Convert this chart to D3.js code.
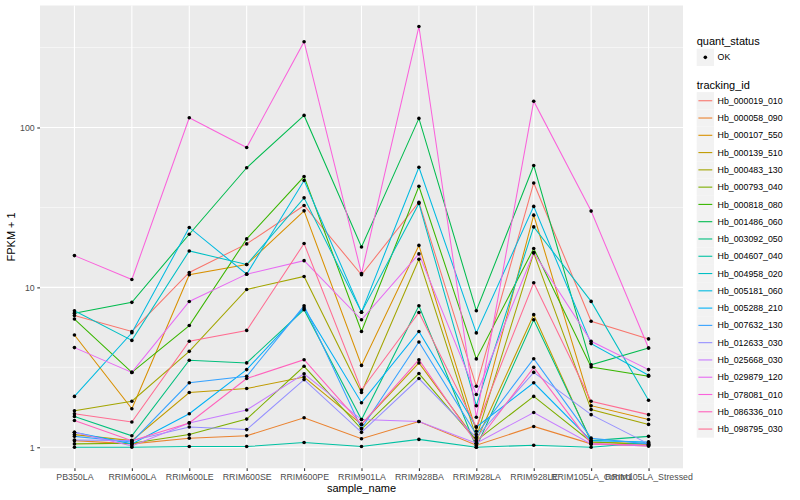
<!DOCTYPE html>
<html>
<head>
<meta charset="utf-8">
<script src="https://cdn.jsdelivr.net/npm/d3@7"></script>
<style>
  body { margin: 0; background: #fff; }
  text { font-family: "Liberation Sans", Arial, Helvetica, sans-serif; }
</style>
</head>
<body>
<svg id="chart" width="800" height="500"></svg>
<script>
var width = 800,
    height = 500;

// categories
var samples = ["PB350LA", "RRIM600LA", "RRIM600LE", "RRIM600SE", "RRIM600PE", "RRIM901LA",
  "RRIM928BA", "RRIM928LA", "RRIM928LE", "RRIM105LA_Control", "RRIM105LA_Stressed"];

var trackingIds = ["Hb_000019_010", "Hb_000058_090", "Hb_000107_550", "Hb_000139_510",
  "Hb_000483_130", "Hb_000793_040", "Hb_000818_080", "Hb_001486_060", "Hb_003092_050",
  "Hb_004607_040", "Hb_004958_020", "Hb_005181_060", "Hb_005288_210", "Hb_007632_130",
  "Hb_012633_030", "Hb_025668_030", "Hb_029879_120", "Hb_078081_010", "Hb_086336_010",
  "Hb_098795_030"];

var trackingColors = ["#F8766D", "#EA8331", "#D89000", "#C09B00", "#A3A500", "#7CAE00",
  "#39B600", "#00BB4E", "#00BF7D", "#00C1A3", "#00BFC4", "#00BAE0", "#00B0F6", "#35A2FF",
  "#9590FF", "#C77CFF", "#E76BF3", "#FA62DB", "#FF62BC", "#FF6C91"];

// FPKM + 1, one value per sample
var hb_000019_010 = [6.66, 5.3, 12.4, 18.7, 32.5, 12.0, 34.1, 2.41, 45, 6.14, 4.76];
var hb_000058_090 = [1.1, 1.05, 1.14, 1.18, 1.53, 1.13, 1.45, 1.03, 1.35, 1.05, 1.02];
var hb_000107_550 = [5.04, 1.74, 12.0, 13.9, 30.1, 3.25, 18.3, 1.26, 28.3, 1.82, 1.49];
var hb_000139_510 = [1.2, 1.1, 2.2, 2.33, 2.75, 1.39, 3.37, 1.1, 6.75, 1.08, 1.05];
var hb_000483_130 = [1.69, 1.94, 3.98, 9.7, 11.7, 2.2, 15.0, 1.15, 16.4, 1.72, 1.39];
var hb_000793_040 = [1.05, 1.06, 1.2, 1.5, 3.21, 1.3, 2.89, 1.1, 2.08, 1.08, 1.04];
var hb_000818_080 = [6.34, 2.94, 5.77, 20.1, 49.3, 5.3, 42.9, 3.57, 17.5, 3.18, 2.78];
var hb_001486_060 = [6.9, 8.06, 21.5, 56, 119, 17.9, 114, 7.14, 57.9, 3.28, 4.18];
var hb_003092_050 = [1.56, 1.18, 3.5, 3.37, 7.25, 1.49, 7.67, 1.0, 6.27, 1.1, 1.17];
var hb_004607_040 = [1.0, 1.0, 1.01, 1.01, 1.07, 1.01, 1.12, 1.0, 1.03, 1.0, 1.07];
var hb_004958_020 = [7.14, 4.66, 16.9, 13.9, 36.3, 7.0, 33.5, 1.82, 23.9, 8.17, 1.97];
var hb_005181_060 = [2.08, 5.2, 23.7, 12.1, 46.6, 7.0, 56.4, 5.19, 32.1, 4.45, 2.82];
var hb_005288_210 = [1.24, 1.05, 1.62, 3.06, 7.44, 1.9, 5.3, 1.34, 2.53, 1.1, 1.08];
var hb_007632_130 = [1.17, 1.08, 2.53, 2.78, 7.67, 1.31, 4.55, 1.2, 3.58, 1.14, 1.05];
var hb_012633_030 = [1.11, 1.1, 1.34, 1.29, 2.65, 1.24, 2.69, 1.15, 2.94, 1.6, 1.05];
var hb_025668_030 = [1.24, 1.02, 1.42, 1.71, 2.88, 1.49, 1.45, 1.06, 1.65, 1.05, 1.02];
var hb_029879_120 = [4.2, 2.94, 8.16, 12.1, 14.7, 6.27, 16.2, 2.14, 16.5, 4.6, 3.06];
var hb_078081_010 = [15.8, 11.2, 115, 75, 344, 12.2, 428, 1.54, 146, 30, 4.18];
var hb_086336_010 = [1.47, 1.1, 1.42, 2.69, 3.53, 1.39, 3.53, 1.06, 3.16, 1.05, 1.03];
var hb_098795_030 = [1.62, 1.44, 4.6, 5.38, 18.8, 2.28, 6.97, 1.34, 10.7, 1.94, 1.6];

var fpkmSeries = [hb_000019_010, hb_000058_090, hb_000107_550, hb_000139_510, hb_000483_130,
  hb_000793_040, hb_000818_080, hb_001486_060, hb_003092_050, hb_004607_040, hb_004958_020,
  hb_005181_060, hb_005288_210, hb_007632_130, hb_012633_030, hb_025668_030, hb_029879_120,
  hb_078081_010, hb_086336_010, hb_098795_030];

var yMajor = [1, 10, 100];
var yMinor = [Math.pow(10, 0.5), Math.pow(10, 1.5), Math.pow(10, 2.5)];

/**
 * Panel
 */
var panel = { left: 40, right: 683, top: 5.5, bottom: 468.3 };

var svg = d3.select('#chart');

var x = d3.scalePoint()
    .domain(samples)
    .range([panel.left, panel.right])
    .padding(0.6);

var allValues = d3.merge(fpkmSeries);
var lo = Math.log10(d3.min(allValues)),
    hi = Math.log10(d3.max(allValues)),
    pad = (hi - lo) * 0.05;

var y = d3.scaleLog()
    .domain([Math.pow(10, lo - pad), Math.pow(10, hi + pad)])
    .range([panel.bottom, panel.top]);

var color = d3.scaleOrdinal().domain(trackingIds).range(trackingColors);

svg.append('rect')
    .attr('x', panel.left).attr('y', panel.top)
    .attr('width', panel.right - panel.left)
    .attr('height', panel.bottom - panel.top)
    .attr('fill', '#EBEBEB');

// grid
svg.append('g').selectAll('line').data(yMinor).enter().append('line')
    .attr('x1', panel.left).attr('x2', panel.right)
    .attr('y1', function(d) { return y(d); }).attr('y2', function(d) { return y(d); })
    .attr('stroke', '#fff').attr('stroke-width', 0.55);

svg.append('g').selectAll('line').data(yMajor).enter().append('line')
    .attr('x1', panel.left).attr('x2', panel.right)
    .attr('y1', function(d) { return y(d); }).attr('y2', function(d) { return y(d); })
    .attr('stroke', '#fff').attr('stroke-width', 1.1);

svg.append('g').selectAll('line').data(samples).enter().append('line')
    .attr('x1', function(d) { return x(d); }).attr('x2', function(d) { return x(d); })
    .attr('y1', panel.top).attr('y2', panel.bottom)
    .attr('stroke', '#fff').attr('stroke-width', 1.1);

/**
 * Lines and points
 */
var line = d3.line()
    .x(function(d, i) { return x(samples[i]); })
    .y(function(d) { return y(d); });

svg.append('g').selectAll('path').data(fpkmSeries).enter().append('path')
    .attr('d', line)
    .attr('fill', 'none')
    .attr('stroke', function(d, i) { return color(trackingIds[i]); })
    .attr('stroke-width', 1.05);

var pts = svg.append('g');
fpkmSeries.forEach(function(s) {
    pts.selectAll(null).data(s).enter().append('circle')
        .attr('cx', function(d, i) { return x(samples[i]); })
        .attr('cy', function(d) { return y(d); })
        .attr('r', 1.8)
        .attr('fill', '#000');
});

/**
 * Axes
 */
var xAxis = svg.append('g')
    .attr('transform', 'translate(0,' + panel.bottom + ')')
    .call(d3.axisBottom(x).tickSize(2.75).tickPadding(2.5));

var yAxis = svg.append('g')
    .attr('transform', 'translate(' + panel.left + ',0)')
    .call(d3.axisLeft(y).tickValues(yMajor).tickFormat(d3.format('d')).tickSize(2.75).tickPadding(2.5));

[xAxis, yAxis].forEach(function(a) {
    a.select('.domain').remove();
    a.selectAll('.tick line').attr('stroke', '#333333').attr('stroke-width', 1.07);
    a.selectAll('.tick text').attr('fill', '#4D4D4D').style('font-size', '8.8px');
});

svg.append('text')
    .attr('x', (panel.left + panel.right) / 2).attr('y', 492)
    .attr('text-anchor', 'middle')
    .style('font-size', '11px')
    .text('sample_name');

svg.append('text')
    .attr('transform', 'translate(15,' + ((panel.top + panel.bottom) / 2) + ') rotate(-90)')
    .attr('text-anchor', 'middle')
    .style('font-size', '11px')
    .text('FPKM + 1');

/**
 * Legends
 */
var keyX = 696.7, keySize = 17.28;
var legend = svg.append('g');

legend.append('text').attr('x', keyX).attr('y', 44.5)
    .style('font-size', '11px').text('quant_status');
legend.append('rect').attr('x', keyX).attr('y', 48.7)
    .attr('width', keySize).attr('height', keySize).attr('fill', '#F2F2F2');
legend.append('circle').attr('cx', keyX + keySize / 2).attr('cy', 48.7 + keySize / 2)
    .attr('r', 1.8).attr('fill', '#000');
legend.append('text').attr('x', keyX + keySize + 3.6).attr('y', 48.7 + keySize / 2 + 3.1)
    .style('font-size', '8.8px').text('OK');

legend.append('text').attr('x', keyX).attr('y', 88.5)
    .style('font-size', '11px').text('tracking_id');

var item = legend.selectAll('g.item').data(trackingIds).enter().append('g')
    .attr('class', 'item')
    .attr('transform', function(d, i) { return 'translate(' + keyX + ',' + (92.1 + i * keySize) + ')'; });

item.append('rect').attr('width', keySize).attr('height', keySize).attr('fill', '#F2F2F2');
item.append('line')
    .attr('x1', 1.7).attr('x2', keySize - 1.7)
    .attr('y1', keySize / 2).attr('y2', keySize / 2)
    .attr('stroke', function(d) { return color(d); })
    .attr('stroke-width', 1.1);
item.append('text')
    .attr('x', keySize + 3.6).attr('y', keySize / 2 + 3.1)
    .style('font-size', '8.8px')
    .text(function(d) { return d; });
</script>
</body>
</html>
